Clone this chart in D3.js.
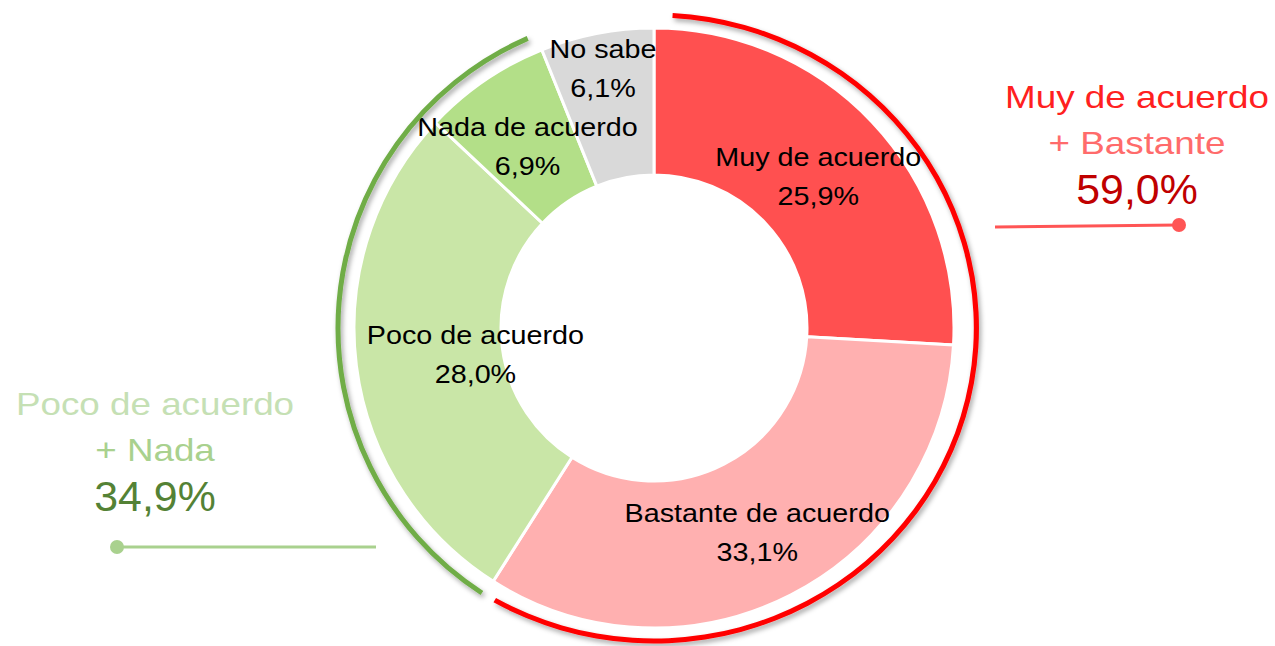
<!DOCTYPE html>
<html>
<head>
<meta charset="utf-8">
<script src="https://cdn.jsdelivr.net/npm/d3@7"></script>
<style>
  body { margin: 0; background: #fff; }
  svg { display: block; font-family: "Liberation Sans", Arial, sans-serif; }
</style>
</head>
<body>
<svg width="1275" height="646"></svg>
<script>
// data
const categories = ['Muy de acuerdo', 'Bastante de acuerdo', 'Poco de acuerdo', 'Nada de acuerdo', 'No sabe'];
const values = [25.9, 33.1, 28.0, 6.9, 6.1];
const sliceColors = ['#ff5050', '#ffb0b0', '#c9e6a7', '#b3df88', '#d9d9d9'];
const groupNames = [['Muy de acuerdo', '+ Bastante'], ['Poco de acuerdo', '+ Nada']];
const groupMembers = [[0, 1], [2, 3]];

const svg = d3.select('svg');
const cx = 654, cy = 328;
const outerR = 300, innerR = 153;
const stretch = 1.15; // text in the source is drawn a bit wide
const fmt = v => d3.format('.1f')(v).replace('.', ',') + '%';
const deg = a => a * Math.PI / 180;

const defs = svg.append('defs');
defs.append('filter').attr('id', 'shadow')
    .attr('x', '-10%').attr('y', '-10%').attr('width', '120%').attr('height', '120%')
  .append('feDropShadow')
    .attr('dx', 2).attr('dy', 3).attr('stdDeviation', 2.5)
    .attr('flood-color', '#000').attr('flood-opacity', 0.35);

const pie = d3.pie().sort(null).value(d => d)(values);
const arc = d3.arc().innerRadius(innerR).outerRadius(outerR);

const g = svg.append('g').attr('transform', `translate(${cx},${cy})`);

g.selectAll('path.slice').data(pie)
  .enter().append('path')
    .attr('class', 'slice')
    .attr('d', arc)
    .attr('fill', (d, i) => sliceColors[i])
    .attr('stroke', '#fff')
    .attr('stroke-width', 3)
    .attr('stroke-linejoin', 'round');

// slice labels, pushed out a little on the small slices
const labelR = [226, 226, 180, 224, 268];
pie.forEach((d, i) => {
    const a = (d.startAngle + d.endAngle) / 2;
    const x = labelR[i] * Math.sin(a);
    const y = -labelR[i] * Math.cos(a);
    const t = g.append('g').attr('transform', `translate(${x},${y}) scale(${stretch},1)`);
    t.append('text').attr('y', -7).attr('text-anchor', 'middle')
        .attr('font-size', 25).attr('fill', '#000').text(categories[i]);
    t.append('text').attr('y', 32).attr('text-anchor', 'middle')
        .attr('font-size', 25).attr('fill', '#000').text(fmt(values[i]));
});

// outer bracket arcs for the two groups
const groupTotal = groupMembers.map(m => d3.sum(m, i => values[i]));
const angle = d3.scaleLinear().domain([0, 100]).range([0, 2 * Math.PI]);
const startOf = i => d3.sum(values.slice(0, i));

const redArc = d3.arc().innerRadius(310.5).outerRadius(315.5)
    .startAngle(angle(startOf(0)) + deg(3.3))
    .endAngle(angle(startOf(0) + groupTotal[0]) - deg(2.8));
g.append('path')
    .attr('d', redArc())
    .attr('transform', 'scale(1.03,1)')
    .attr('fill', '#ff0000')
    .attr('filter', 'url(#shadow)');

const greenArc = d3.arc().innerRadius(313.5).outerRadius(318.5)
    .startAngle(angle(startOf(2)) + deg(0.6))
    .endAngle(angle(startOf(2) + groupTotal[1]) - deg(1.6));
g.append('path')
    .attr('d', greenArc())
    .attr('fill', '#70ad47')
    .attr('filter', 'url(#shadow)');

// group call-outs
const callouts = [
    {x: 1137, y: 108, colors: ['#ff2020', '#ff6b6b', '#c00000'],
     line: [[995, 227], [1179, 225]], lineColor: '#ff5555', dot: 1},
    {x: 155, y: 415, colors: ['#c5e0b4', '#a9d18e', '#548235'],
     line: [[117, 547], [376, 547]], lineColor: '#a9d18e', dot: 0}
];
callouts.forEach((c, k) => {
    const t = svg.append('g');
    t.append('text')
        .attr('transform', `translate(${c.x},${c.y}) scale(${stretch},1)`)
        .attr('text-anchor', 'middle').attr('font-size', 32)
        .attr('fill', c.colors[0]).text(groupNames[k][0]);
    t.append('text')
        .attr('transform', `translate(${c.x},${c.y + 46}) scale(${stretch},1)`)
        .attr('text-anchor', 'middle').attr('font-size', 32)
        .attr('fill', c.colors[1]).text(groupNames[k][1]);
    t.append('text')
        .attr('transform', `translate(${c.x},${c.y + 96}) scale(1.02,1)`)
        .attr('text-anchor', 'middle').attr('font-size', 42)
        .attr('fill', c.colors[2]).text(fmt(groupTotal[k]));
    t.append('line')
        .attr('x1', c.line[0][0]).attr('y1', c.line[0][1])
        .attr('x2', c.line[1][0]).attr('y2', c.line[1][1])
        .attr('stroke', c.lineColor).attr('stroke-width', 3);
    t.append('circle')
        .attr('cx', c.line[c.dot][0]).attr('cy', c.line[c.dot][1])
        .attr('r', 7).attr('fill', c.lineColor);
});
</script>
</body>
</html>
